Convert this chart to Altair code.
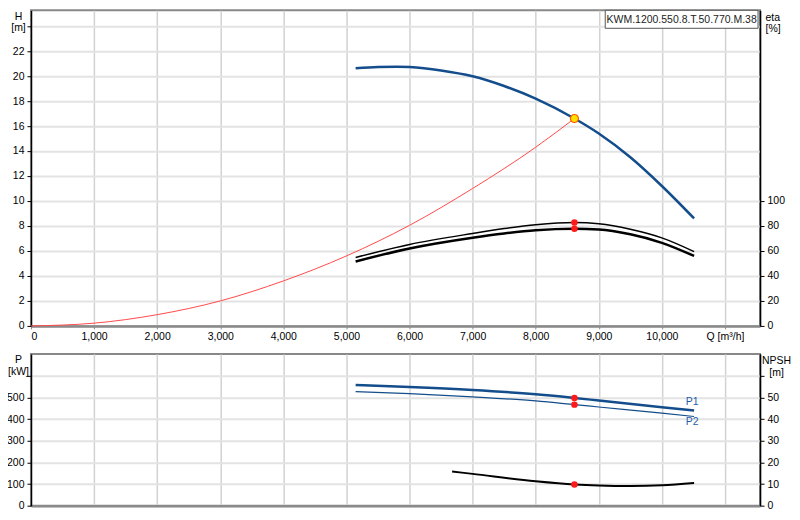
import altair as alt
import pandas as pd

FONT = "Liberation Sans"

# ---------------- data ----------------
model_name = ["KWM.1200.550.8.T.50.770.M.38"]

h_q = [5146, 5500, 5800, 6000, 6500, 7000, 7500, 8000, 8614, 9000, 9500, 10000, 10511]
h_val = [20.62, 20.72, 20.75, 20.72, 20.45, 19.98, 19.2, 18.19, 16.6, 15.4, 13.5, 11.2, 8.6]

sys_q = [0, 1000, 2000, 3000, 4000, 5000, 6000, 7000, 8000, 8614]
sys_h = [0, 0.22, 0.9, 2.0, 3.6, 5.6, 8.05, 11.0, 14.3, 16.6]

eta_q = [5146, 6000, 7000, 7500, 8000, 8614, 9000, 9500, 10000, 10511]
eta_upper = [54.8, 65.2, 74.0, 77.9, 81.0, 82.8, 81.8, 77.4, 70.5, 59.5]
eta_lower = [51.6, 62.0, 70.6, 74.0, 76.6, 77.8, 77.2, 73.3, 66.5, 56.0]

p_q = [5146, 6000, 7000, 8000, 8614, 9000, 10000, 10511]
p1 = [558, 549, 535, 515, 498, 486, 455, 440]
p2 = [527, 518, 503, 484, 467, 456, 428, 412]

npsh_q = [6675, 7000, 8000, 8614, 9000, 9500, 10000, 10511]
npsh = [15.8, 14.7, 11.3, 9.8, 9.3, 9.05, 9.4, 10.5]

duty_q = [8614]
duty_h = [16.6]
duty_eta = [82.8, 77.8]
duty_p = [498, 467]
duty_npsh = [9.8]

p_label_names = ["P1", "P2"]
p_label_q = [10480, 10480]
p_label_p = [481, 388]

x_ticks = list(range(0, 12000, 1000))

# ---------------- layout ----------------
W = 730
HT = 316
HB = 152
BLUE = "#134d8b"

x_top = alt.X(
    "Q:Q",
    scale=alt.Scale(domain=[0, 11556], nice=False, zero=False),
    axis=alt.Axis(
        values=x_ticks,
        labelExpr="datum.value == 11000 ? 'Q [m³/h]' : format(datum.value, ',')",
        grid=True, gridColor="#d2d2d2", gridWidth=1.5,
        domainColor="#8a8a8a", domainWidth=2.5,
        tickColor="#8a8a8a", tickSize=3, labelPadding=3, title=None,
    ),
)
x_bot = alt.X(
    "Q:Q",
    scale=alt.Scale(domain=[0, 11556], nice=False, zero=False),
    axis=alt.Axis(
        values=x_ticks, labels=False, ticks=False,
        grid=True, gridColor="#d2d2d2", gridWidth=1.5,
        domainColor="#8a8a8a", domainWidth=2.5, title=None,
    ),
)


def left_axis(vals, hide, title):
    return alt.Axis(
        orient="left", values=vals,
        labelExpr="datum.value == %s ? '' : datum.label" % hide,
        grid=True, gridColor="#e3e3e3", gridWidth=2,
        domainColor="black", domainWidth=1.5,
        tickColor="black", tickSize=4, labelPadding=3,
        title=title, titleAngle=0, titleAlign="center", titleBaseline="top",
        titleX=-13, titleY=1, titleFontWeight="normal", titleFontSize=10.5,
        titleLineHeight=11.5,
    )


def right_axis(vals, hide, title, align, tx):
    return alt.Axis(
        orient="right", values=vals,
        labelExpr="datum.value == %s ? '' : datum.label" % hide,
        grid=False, domainColor="black", domainWidth=1.5,
        tickColor="black", tickSize=4, labelPadding=3,
        title=title, titleAngle=0, titleAlign=align, titleBaseline="top",
        titleX=tx, titleY=2, titleFontWeight="normal", titleFontSize=10.5,
        titleLineHeight=11.5,
    )


y_h = alt.Y("H:Q", scale=alt.Scale(domain=[0, 25.26], nice=False),
            axis=left_axis(list(range(0, 25, 2)), 24, ["H", "[m]"]))
y_eta = alt.Y("eta:Q", scale=alt.Scale(domain=[0, 252.6], nice=False),
              axis=right_axis([0, 20, 40, 60, 80, 100], 999, ["eta", "[%]"], "left", 5))
y_p = alt.Y("P:Q", scale=alt.Scale(domain=[0, 701.5], nice=False),
            axis=left_axis(list(range(0, 700, 100)), 600, ["P", "[kW]"]))
y_n = alt.Y("NPSH:Q", scale=alt.Scale(domain=[0, 70.15], nice=False),
            axis=right_axis(list(range(0, 70, 10)), 60, ["NPSH", "[m]"], "center", 16))

# ---------------- top panel ----------------
h_df = pd.DataFrame({"Q": h_q, "H": h_val})
sys_df = pd.DataFrame({"Q": sys_q, "H": sys_h})
duty_df = pd.DataFrame({"Q": duty_q, "H": duty_h})
e1_df = pd.DataFrame({"Q": eta_q, "eta": eta_upper})
e2_df = pd.DataFrame({"Q": eta_q, "eta": eta_lower})
edot_df = pd.DataFrame({"Q": duty_q * 2, "eta": duty_eta})
name_df = pd.DataFrame({"t": model_name})

h_line = alt.Chart(h_df).mark_line(color=BLUE, strokeWidth=2.5, interpolate="monotone").encode(x=x_top, y=y_h)
sys_line = alt.Chart(sys_df).mark_line(color="#ff4a4a", strokeWidth=1, interpolate="monotone").encode(x=x_top, y=y_h)
duty_pt = alt.Chart(duty_df).mark_circle(color="#ffe000", stroke="#ff5a00", strokeWidth=1.2, size=64, opacity=1).encode(x=x_top, y=y_h)
box = alt.Chart(name_df).mark_rect(fill="white", stroke="#555555", strokeWidth=1).encode(
    x=alt.value(W - 155), x2=alt.value(W - 2), y=alt.value(0), y2=alt.value(18))
box_text = alt.Chart(name_df).mark_text(font=FONT, fontSize=10.5, color="#222222").encode(
    x=alt.value(W - 78.5), y=alt.value(9.5), text="t:N")

e1 = alt.Chart(e1_df).mark_line(color="black", strokeWidth=1.5, interpolate="monotone").encode(x=x_top, y=y_eta)
e2 = alt.Chart(e2_df).mark_line(color="black", strokeWidth=2.5, interpolate="monotone").encode(x=x_top, y=y_eta)
e_dots = alt.Chart(edot_df).mark_circle(color="#ff1a1a", size=42, opacity=1).encode(x=x_top, y=y_eta)

top = alt.layer(
    alt.layer(sys_line, h_line, duty_pt, box, box_text),
    alt.layer(e1, e2, e_dots),
).resolve_scale(y="independent").properties(width=W, height=HT)

# ---------------- bottom panel ----------------
p1_df = pd.DataFrame({"Q": p_q, "P": p1})
p2_df = pd.DataFrame({"Q": p_q, "P": p2})
pdot_df = pd.DataFrame({"Q": duty_q * 2, "P": duty_p})
plab_df = pd.DataFrame({"Q": p_label_q, "P": p_label_p, "name": p_label_names})
n_df = pd.DataFrame({"Q": npsh_q, "NPSH": npsh})
ndot_df = pd.DataFrame({"Q": duty_q, "NPSH": duty_npsh})

p1_line = alt.Chart(p1_df).mark_line(color=BLUE, strokeWidth=2.5, interpolate="monotone").encode(x=x_bot, y=y_p)
p2_line = alt.Chart(p2_df).mark_line(color=BLUE, strokeWidth=1.2, interpolate="monotone").encode(x=x_bot, y=y_p)
p_dots = alt.Chart(pdot_df).mark_circle(color="#ff1a1a", size=42, opacity=1).encode(x=x_bot, y=y_p)
p_text = alt.Chart(plab_df).mark_text(font=FONT, fontSize=10.5, color="#1f5faa").encode(x=x_bot, y=y_p, text="name:N")

n_line = alt.Chart(n_df).mark_line(color="black", strokeWidth=2, interpolate="monotone").encode(x=x_bot, y=y_n)
n_dot = alt.Chart(ndot_df).mark_circle(color="#ff1a1a", size=42, opacity=1).encode(x=x_bot, y=y_n)

bottom = alt.layer(
    alt.layer(p1_line, p2_line, p_dots, p_text),
    alt.layer(n_line, n_dot),
).resolve_scale(y="independent").properties(width=W, height=HB)

chart = alt.vconcat(top, bottom, spacing=9).properties(
    padding={"left": -3, "top": 0, "right": 0, "bottom": 0}
).configure_view(stroke="#888888", strokeWidth=2).configure_axis(
    labelFont=FONT, labelFontSize=10.5, labelColor="black",
    titleFont=FONT, titleColor="black",
)

chart.save("out.html", embed_options={"renderer": "svg", "actions": False})
